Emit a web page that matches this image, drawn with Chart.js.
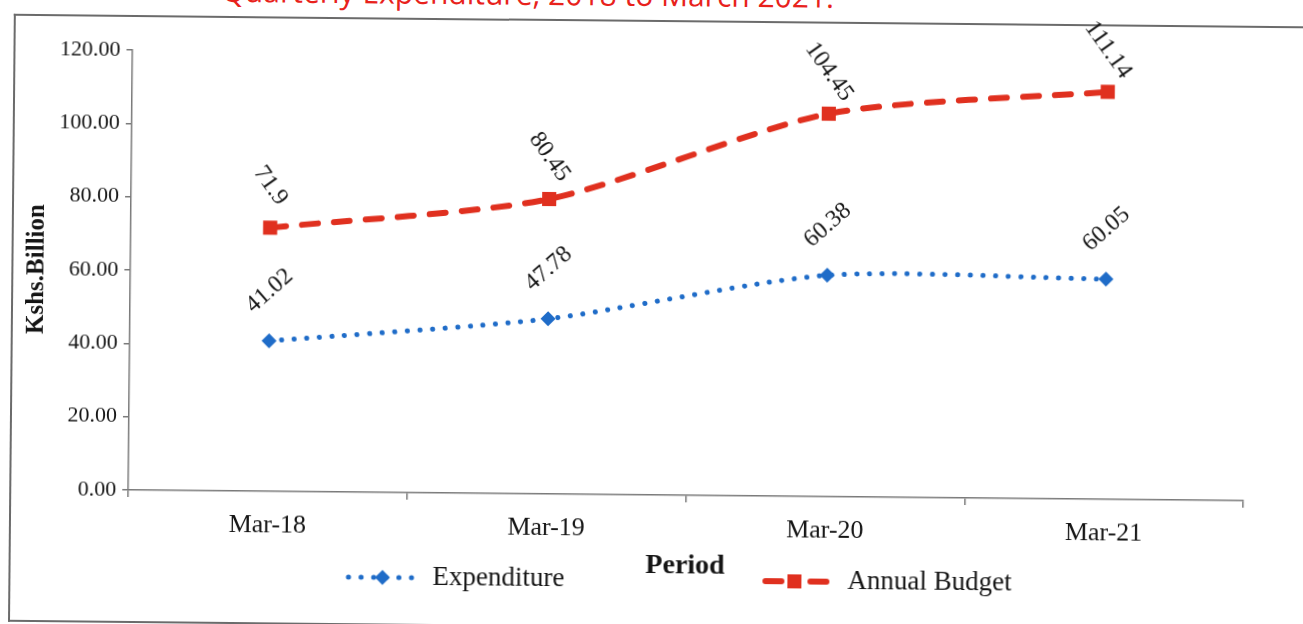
<!DOCTYPE html>
<html>
<head>
<meta charset="utf-8">
<script src="https://cdn.jsdelivr.net/npm/chart.js@4.4.1/dist/chart.umd.min.js"></script>
<style>
  html, body { margin: 0; padding: 0; background: #fff; overflow: hidden; width: 1303px; height: 624px; }
  /* the source is a slightly tilted scan, so the whole sheet is turned a little */
  #page { position: absolute; left: 0; top: 0; width: 1303px; height: 624px; transform: rotate(0.55deg); transform-origin: 651px 312px; }
  #frame { position: absolute; left: 11px; top: 20px; width: 1400px; height: 604px; border-left: 2px solid #6b6b6b; border-top: 2px solid #6b6b6b; border-bottom: 2px solid #6b6b6b; }
  #caption { position: absolute; right: 472px; top: -20px; font: 30px/30px "Open Sans"; color: #e8221c; white-space: nowrap; }
  canvas { position: absolute; left: 0; top: 0; }
</style>
</head>
<body>
<div id="page">
  <div id="caption">Quarterly Expenditure, 2018 to March 2021.</div>
  <div id="frame"></div>
  <canvas id="chart" width="1303" height="624"></canvas>
</div>
<script>
const periods = ['Mar-18', 'Mar-19', 'Mar-20', 'Mar-21'];
const expenditure = [41.02, 47.78, 60.38, 60.05];
const annualBudget = [71.9, 80.45, 104.45, 111.14];
const expenditureLabels = ['41.02', '47.78', '60.38', '60.05'];
const budgetLabels = ['71.9', '80.45', '104.45', '111.14'];
const yTickLabels = ['0.00', '20.00', '40.00', '60.00', '80.00', '100.00', '120.00'];

const blue = '#1f6cc8';
const red = '#e0301f';
const axisGrey = '#7a7a7a';
const serif = '"Liberation Serif", "Times New Roman", serif';

// rotated value labels above each point
const valueLabels = {
  id: 'valueLabels',
  afterDatasetsDraw(chart) {
    const ctx = chart.ctx;
    chart.data.datasets.forEach((ds, i) => {
      const meta = chart.getDatasetMeta(i);
      meta.data.forEach((pt, j) => {
        ctx.save();
        ctx.font = '24px ' + serif;
        ctx.fillStyle = '#151515';
        ctx.textAlign = 'center';
        ctx.textBaseline = 'middle';
        ctx.translate(pt.x, pt.y - ds.labelOffset);
        ctx.rotate(ds.labelAngle * Math.PI / 180);
        ctx.fillText(ds.valueText[j], 0, 0);
        ctx.restore();
      });
    });
  }
};

// legend row, with the axis title "Period" sitting between the two entries
const bottomLegend = {
  id: 'bottomLegend',
  afterDraw(chart) {
    const ctx = chart.ctx;
    const y = 580;
    ctx.save();
    // Expenditure
    ctx.strokeStyle = blue;
    ctx.lineWidth = 5;
    ctx.lineCap = 'round';
    ctx.setLineDash([0.1, 12.5]);
    ctx.beginPath(); ctx.moveTo(351, y); ctx.lineTo(418, y); ctx.stroke();
    ctx.setLineDash([]);
    ctx.fillStyle = blue;
    ctx.beginPath();
    ctx.moveTo(385, y - 7.5); ctx.lineTo(392.5, y); ctx.lineTo(385, y + 7.5); ctx.lineTo(377.5, y);
    ctx.closePath(); ctx.fill();
    // Annual Budget
    ctx.strokeStyle = red;
    ctx.lineWidth = 6;
    ctx.setLineDash([16, 29]);
    ctx.beginPath(); ctx.moveTo(768, y); ctx.lineTo(830, y); ctx.stroke();
    ctx.setLineDash([]);
    ctx.fillStyle = red;
    ctx.fillRect(790, y - 7, 14, 14);
    // texts
    ctx.fillStyle = '#151515';
    ctx.font = '27px ' + serif;
    ctx.textBaseline = 'middle';
    ctx.textAlign = 'left';
    ctx.fillText(chart.data.datasets[0].label, 435, y);
    ctx.fillText(chart.data.datasets[1].label, 850, y);
    ctx.restore();
  }
};

new Chart(document.getElementById('chart'), {
  type: 'line',
  data: {
    labels: periods,
    datasets: [{
      label: 'Expenditure',
      data: expenditure,
      borderColor: blue,
      backgroundColor: blue,
      borderWidth: 5,
      borderDash: [0.1, 12.5],
      borderCapStyle: 'round',
      borderJoinStyle: 'round',
      pointStyle: 'rectRot',
      pointRadius: 7.5,
      pointBorderWidth: 0,
      tension: 0.25,
      valueText: expenditureLabels,
      labelOffset: 50,
      labelAngle: -42
    }, {
      label: 'Annual Budget',
      data: annualBudget,
      borderColor: red,
      backgroundColor: red,
      borderWidth: 6,
      borderDash: [16, 16],
      borderCapStyle: 'round',
      borderJoinStyle: 'round',
      pointStyle: 'rect',
      pointRadius: 10,
      pointBorderWidth: 0,
      tension: 0.25,
      valueText: budgetLabels,
      labelOffset: 42,
      labelAngle: 54
    }]
  },
  options: {
    responsive: false,
    animation: false,
    layout: { padding: { left: 18, top: 55, right: 58, bottom: 30 } },
    scales: {
      x: {
        offset: true,
        grid: { offset: true, drawOnChartArea: false, tickLength: 7, color: axisGrey, lineWidth: 1.5 },
        border: { color: axisGrey, width: 1.5 },
        ticks: { color: '#151515', padding: 12, font: { family: serif, size: 26 } },
        title: {
          display: true,
          text: 'Period',
          color: '#151515',
          font: { family: serif, size: 28, weight: 'bold' },
          padding: { top: 0, bottom: 11 }
        },
        afterFit(scale) { scale.height = 99; }
      },
      y: {
        min: 0,
        max: 120,
        grid: { drawOnChartArea: false, tickLength: 6, color: axisGrey, lineWidth: 1.5 },
        border: { color: axisGrey, width: 1.5 },
        ticks: {
          stepSize: 20,
          padding: 6,
          color: '#151515',
          font: { family: serif, size: 22 },
          callback: (v, i) => yTickLabels[i]
        },
        title: {
          display: true,
          text: 'Kshs.Billion',
          color: '#151515',
          font: { family: serif, size: 25, weight: 'bold' },
          padding: { top: 4, bottom: 0 }
        },
        afterFit(scale) { scale.width = 112; }
      }
    },
    plugins: {
      legend: { display: false },
      tooltip: { enabled: false }
    }
  },
  plugins: [valueLabels, bottomLegend]
});
</script>
</body>
</html>
